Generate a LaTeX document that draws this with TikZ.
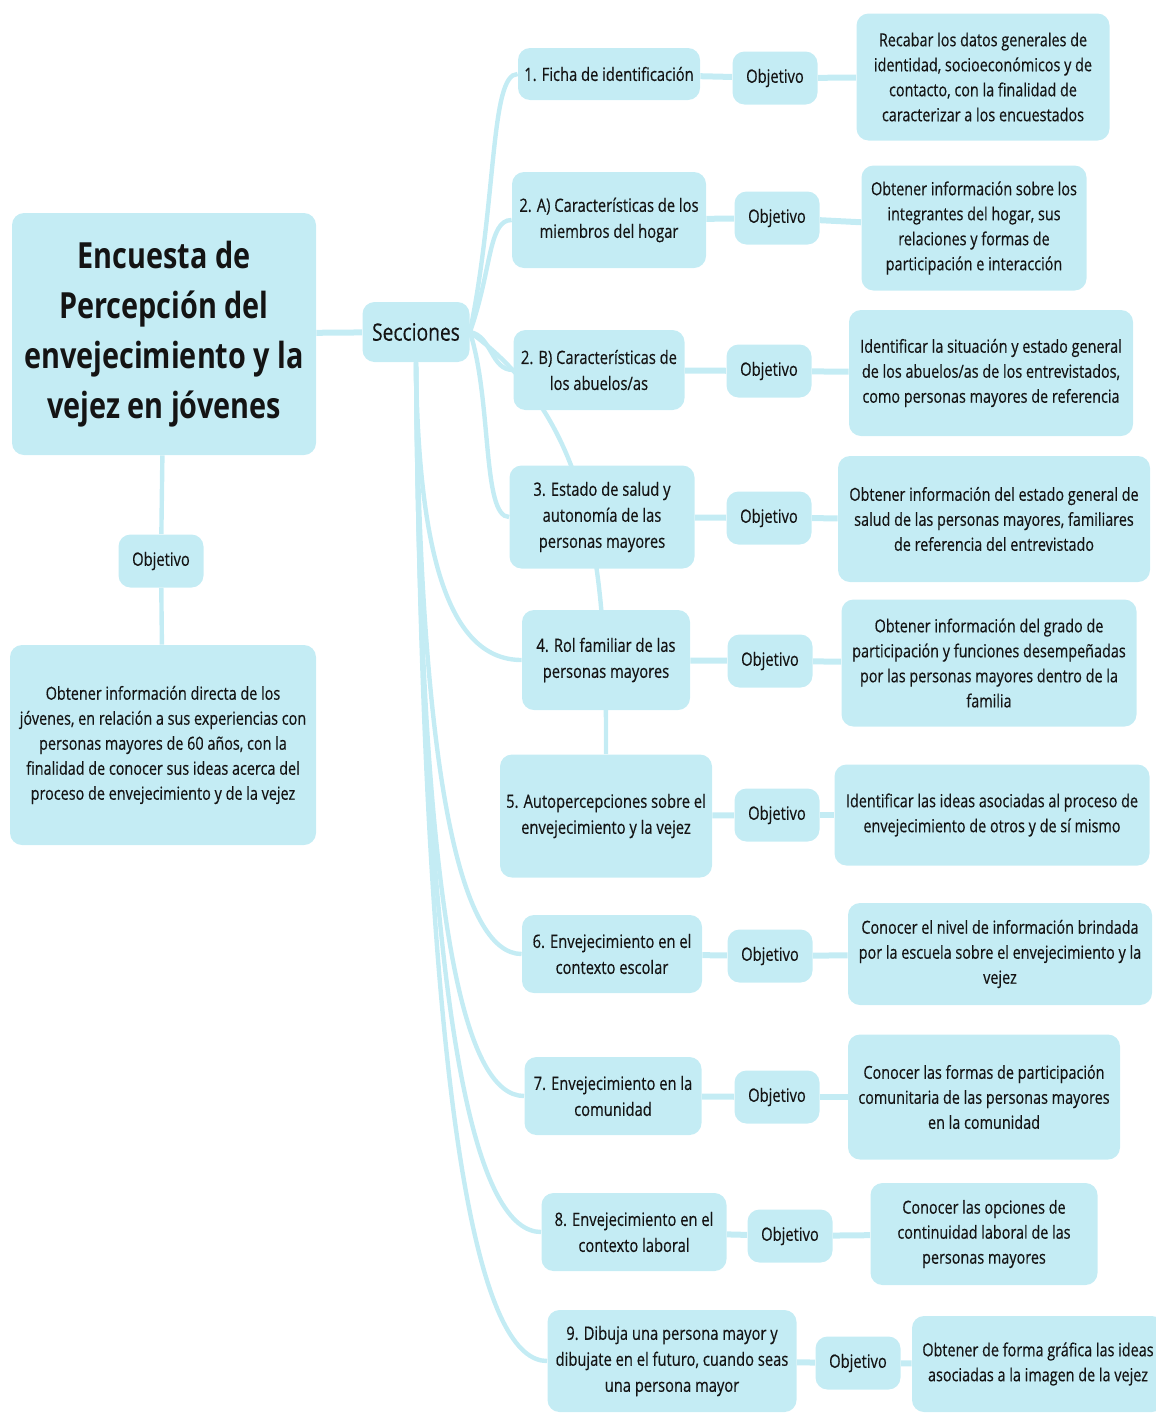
\documentclass[tikz,border=0pt]{standalone}
\usepackage{fontspec}
\setmainfont{Open Sans}[FakeStretch=0.8,UprightFeatures={FakeBold=0.4}]
\usepackage{tikz}
\usetikzlibrary{backgrounds}
\definecolor{mmcyan}{RGB}{196,236,244}
\definecolor{mmtext}{RGB}{20,20,20}

\begin{document}
\begin{tikzpicture}[
x=0.5pt,y=-0.5pt,
every node/.style={
  fill=mmcyan,
  text=mmtext,
  rounded corners=6pt,
  align=center,
  inner sep=0pt
},
topic/.style={
  font=\bfseries\fontsize{18}{25}\selectfont
},
secbox/.style={
  font=\fontsize{9.2}{13}\selectfont
},
objbox/.style={
  font=\fontsize{9.2}{13}\selectfont,
  minimum width=42.5pt,
  minimum height=26.5pt
},
descbox/.style={
  font=\fontsize{9}{12.5}\selectfont
},
link/.style={
  draw=mmcyan,
  line width=2.2pt
},
thick link/.style={
  draw=mmcyan,
  line width=3pt
}
]
\useasboundingbox (0,0) rectangle (1156,1414);

\node[topic,minimum width=152pt,minimum height=121pt] at (164,334)
  (title) {Encuesta de\\Percepción del\\envejecimiento y la\\vejez en jóvenes};
\node[font=\fontsize{12}{15}\selectfont,minimum width=53.5pt,minimum height=30pt] at (416,332)
  (sec) {Secciones};
\node[objbox] at (161,561)
  (objL) {Objetivo};
\node[descbox,minimum width=153pt,minimum height=100pt] at (163,745)
  (descL) {Obtener información directa de los\\jóvenes, en relación a sus experiencias con\\personas mayores de 60 años, con la\\finalidad de conocer sus ideas acerca del\\proceso de envejecimiento y de la vejez};

% secciones
\node[secbox,minimum width=91pt,minimum height=26pt] at (609,74)
  (s1) {1. Ficha de identificación};
\node[secbox,minimum width=97pt,minimum height=48pt] at (609,220)
  (s2a) {2. A) Características de los\\miembros del hogar};
\node[secbox,minimum width=85.5pt,minimum height=40pt] at (599,370)
  (s2b) {2. B) Características de\\los abuelos/as};
\node[secbox,minimum width=92.5pt,minimum height=51.5pt] at (602,517)
  (s3) {3. Estado de salud y\\autonomía de las\\personas mayores};
\node[secbox,minimum width=84pt,minimum height=50pt] at (606,660)
  (s4) {4. Rol familiar de las\\personas mayores};
\node[secbox,minimum width=106pt,minimum height=61.5pt] at (606,816)
  (s5) {5. Autopercepciones sobre el\\envejecimiento y la vejez};
\node[secbox,minimum width=90pt,minimum height=39pt] at (612,954)
  (s6) {6. Envejecimiento en el\\contexto escolar};
\node[secbox,minimum width=88.5pt,minimum height=39pt] at (613,1096)
  (s7) {7. Envejecimiento en la\\comunidad};
\node[secbox,minimum width=92.5pt,minimum height=39pt] at (634,1232)
  (s8) {8. Envejecimiento en el\\contexto laboral};
\node[secbox,minimum width=124.5pt,minimum height=51pt] at (672,1361)
  (s9) {9. Dibuja una persona mayor y\\dibujate en el futuro, cuando seas\\una persona mayor};

% objetivos
\node[objbox] at (775,78) (o1) {Objetivo};
\node[objbox] at (777,218) (o2a) {Objetivo};
\node[objbox] at (769,371) (o2b) {Objetivo};
\node[objbox] at (769,518) (o3) {Objetivo};
\node[objbox] at (770,661) (o4) {Objetivo};
\node[objbox] at (777,815) (o5) {Objetivo};
\node[objbox] at (770,956) (o6) {Objetivo};
\node[objbox] at (777,1097) (o7) {Objetivo};
\node[objbox] at (790,1236) (o8) {Objetivo};
\node[objbox] at (858,1363) (o9) {Objetivo};

% descripciones
\node[descbox,minimum width=126.5pt,minimum height=63.5pt] at (983,77)
  (d1) {Recabar los datos generales de\\identidad, socioeconómicos y de\\contacto, con la finalidad de\\caracterizar a los encuestados};
\node[descbox,minimum width=112.5pt,minimum height=62.5pt] at (974,228)
  (d2a) {Obtener información sobre los\\integrantes del hogar, sus\\relaciones y formas de\\participación e interacción};
\node[descbox,minimum width=142pt,minimum height=63pt] at (991,373)
  (d2b) {Identificar la situación y estado general\\de los abuelos/as de los entrevistados,\\como personas mayores de referencia};
\node[descbox,minimum width=156pt,minimum height=63pt] at (994,519)
  (d3) {Obtener información del estado general de\\salud de las personas mayores, familiares\\de referencia del entrevistado};
\node[descbox,minimum width=147.5pt,minimum height=63.5pt] at (989,663)
  (d4) {Obtener información del grado de\\participación y funciones desempeñadas\\por las personas mayores dentro de la\\familia};
\node[descbox,minimum width=157.5pt,minimum height=50.5pt] at (992,815)
  (d5) {Identificar las ideas asociadas al proceso de\\envejecimiento de otros y de sí mismo};
\node[descbox,minimum width=152pt,minimum height=51pt] at (1000,954)
  (d6) {Conocer el nivel de información brindada\\por la escuela sobre el envejecimiento y la\\vejez};
\node[descbox,minimum width=136pt,minimum height=62.5pt] at (984,1097)
  (d7) {Conocer las formas de participación\\comunitaria de las personas mayores\\en la comunidad};
\node[descbox,minimum width=113.5pt,minimum height=51pt] at (984,1234)
  (d8) {Conocer las opciones de\\continuidad laboral de las\\personas mayores};
\node[descbox,minimum width=126pt,minimum height=48pt] at (1038,1364)
  (d9) {Obtener de forma gráfica las ideas\\asociadas a la imagen de la vejez};

\begin{scope}[on background layer]
\draw[thick link] (title) -- (sec);
\draw[link] (title) -- (objL);
\draw[link] (objL) -- (descL);

\draw[link] (sec.east) .. controls (497,200) and (490,74) .. (s1.west);
\draw[link] (sec.east) .. controls (492,270) and (488,220) .. (s2a.west);
\draw[link] (sec.east) to[out=-10,in=180] (s2b.west);
\draw[link] (sec.east) .. controls (492,400) and (482,517) .. (s3.west);
\draw[link] (sec.east) .. controls (590,420) and (607,560) .. (s5.north);
\draw[link] (sec.south) .. controls +(2,200) and +(-70,0) .. (s4.west);
\draw[link] (sec.south) .. controls +(4,420) and +(-60,0) .. (s6.west);
\draw[link] (sec.south) .. controls +(4,560) and +(-60,0) .. (s7.west);
\draw[link] (sec.south) .. controls +(6,700) and +(-60,0) .. (s8.west);
\draw[link] (sec.south) .. controls +(8,820) and +(-60,0) .. (s9.west);

\foreach \n in {1,2a,2b,3,4,5,6,7,8,9}{
  \draw[thick link] (s\n) -- (o\n);
  \draw[thick link] (o\n) -- (d\n);
}
\end{scope}
\end{tikzpicture}
\end{document}
